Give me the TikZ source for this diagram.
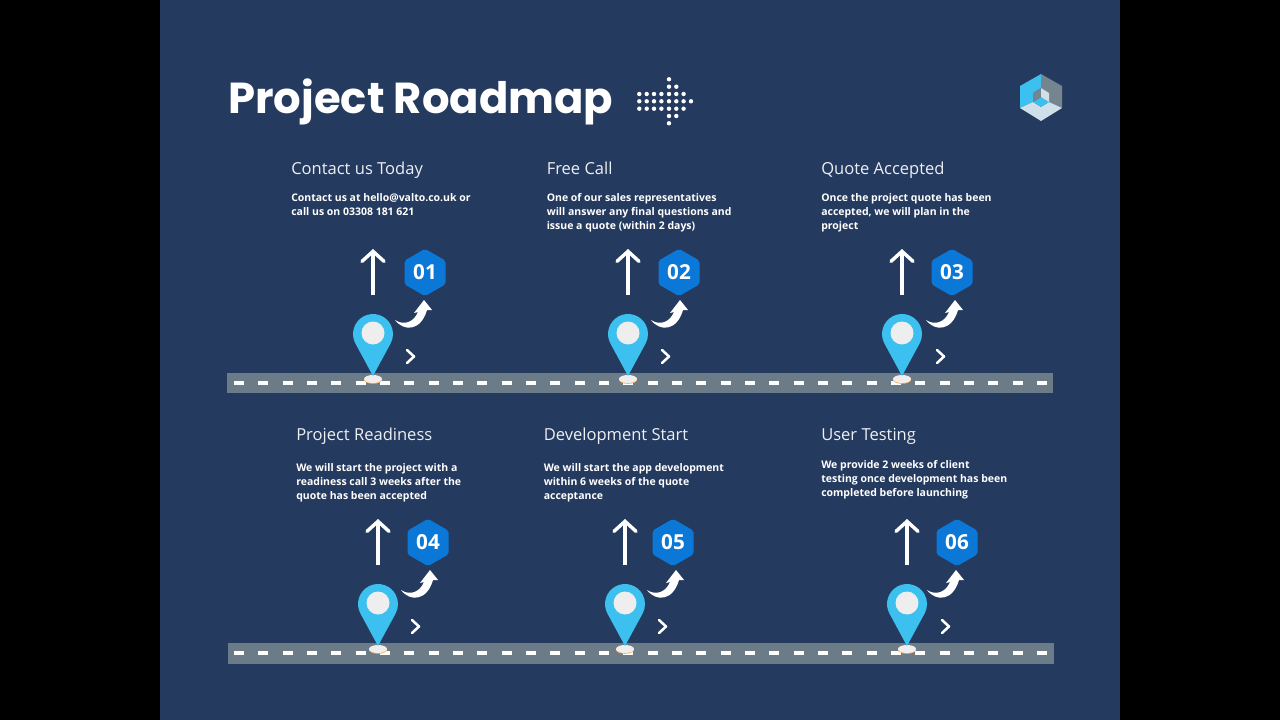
\documentclass[tikz,border=0pt]{standalone}
\usepackage{fontspec}
\setmainfont{Open Sans}
\newfontfamily\titlefont{Poppins}
\usepackage{xcolor}
\usetikzlibrary{arrows.meta,shapes.geometric}

\definecolor{panelblue}{HTML}{253A5F}
\definecolor{roadgrey}{HTML}{6B7B88}
\definecolor{pinblue}{HTML}{3BC0EF}
\definecolor{hexblue}{HTML}{0B78D8}
\definecolor{pinwhite}{HTML}{EEEEEE}
\definecolor{logogrey}{HTML}{75858F}
\definecolor{logolight}{HTML}{CFE0EA}

\tikzset{
  heading/.style={anchor=base west,inner sep=0pt,text=white!92!panelblue,font=\fontsize{12.4}{15}\selectfont},
  bodytext/.style={anchor=north west,inner sep=0pt,text=white,align=left,font=\fontsize{7.87}{10.5}\selectfont\bfseries},
  hexnum/.style={regular polygon,regular polygon sides=6,shape border rotate=30,minimum size=35.5pt,inner sep=0pt,
    rounded corners=1.5pt,fill=hexblue,text=white,font=\fontsize{15.5}{15.5}\selectfont\bfseries},
  uparrow/.style={draw=white,line width=2.6pt,-{Straight Barb[length=7.5pt,width=16.5pt,line cap=round]}},
  chevron/.style={draw=white,line width=1.9pt,line cap=round,line join=round},
  roadbed/.style={fill=roadgrey},
  roaddash/.style={draw=white,line width=2.4pt,dash pattern={on 7.5pt off 10.75pt}},
  griddot/.style={fill=white}
}

% #1 number, #2 pin x, #3 row offset, #4 hexagon x, #5 curved arrow x, #6 chevron x
\newcommand{\roadstop}[6]{
  % Up arrow
  \coordinate (foot#1) at (#2,295+#3);
  \coordinate (head#1) at (#2,249+#3);
  \draw [uparrow] (foot#1) -- (head#1);
  % Number
  \node [hexnum] (hex#1) at (#4,272.5+#3) {#1};
  % Curved arrow
  \fill [white] (#5+1,320+#3) .. controls (#5+10,332+#3) and (#5+27,331+#3) .. (#5+33,310+#3)
    -- (#5+38,310+#3) -- (#5+30,300+#3) -- (#5+20,313+#3) -- (#5+24,312+#3)
    .. controls (#5+20,322+#3) and (#5+10,326+#3) .. cycle;
  % Chevron
  \draw [chevron] (#6-3,350+#3) -- (#6+4,356.5+#3) -- (#6-3,363+#3);
  % Pin
  \fill [orange!70!white] (#2,379.8+#3) ellipse [x radius=9,y radius=4];
  \fill [pinwhite] (#2,379+#3) ellipse [x radius=9,y radius=4];
  \fill [pinblue] (#2,376+#3) -- (#2-17.7,343.3+#3) arc [start angle=152.3,end angle=387.7,radius=20] -- cycle;
  \fill [pinwhite] (#2,333+#3) circle [radius=11.5];
}

\begin{document}
\begin{tikzpicture}[x=0.75pt,y=0.75pt,yscale=-1,xscale=1]
  \useasboundingbox (0,0) rectangle (1280,720);
  \fill [black] (0,0) rectangle (1280,720);
  \fill [panelblue] (160,0) rectangle (1120,720);

  % Title
  \node [anchor=base west,inner sep=0pt,text=white,font=\titlefont\fontsize{32.5}{33}\selectfont\bfseries] (title) at (228,114) {Project Roadmap};

  % Dotted arrow
  \foreach \row in {94,101.3,108.7} {
    \foreach \col in {639.3,646.7,654,661.4,669,676.3,683.6} {
      \fill [griddot] (\col,\row) circle [radius=2.2];
    }
  }
  \fill [griddot] (691,101.3) circle [radius=2.2];
  \foreach \row in {86.7,116} {
    \fill [griddot] (669,\row) circle [radius=2.2];
    \fill [griddot] (676.3,\row) circle [radius=2.2];
  }
  \fill [griddot] (669,79.3) circle [radius=2.2];
  \fill [griddot] (669,123.3) circle [radius=2.2];

  % Logo
  \fill [pinblue] (1041,74) -- (1020,86) -- (1020,108) -- (1033,102) -- (1033,93) -- (1041,88) -- cycle;
  \fill [logogrey] (1041,74) -- (1062,86) -- (1062,108) -- (1049,102) -- (1049,93) -- (1041,88) -- cycle;
  \fill [logolight] (1020,108) -- (1041,121) -- (1062,108) -- (1049,102) -- (1041,107) -- (1033,102) -- cycle;
  \fill [pinblue] (1033,102) -- (1041,97) -- (1049,102) -- (1041,107) -- cycle;
  \fill [logogrey] (1033,93) -- (1041,88) -- (1041,97) -- (1033,102) -- cycle;
  \fill [logolight] (1041,88) -- (1049,93) -- (1049,102) -- (1041,97) -- cycle;

  % Roads
  \fill [roadbed] (227,373) rectangle (1053,393);
  \fill [roadbed] (228,643) rectangle (1054,664);
  \coordinate (roadAw) at (234,383);
  \coordinate (roadAe) at (1048,383);
  \coordinate (roadBw) at (234,653);
  \coordinate (roadBe) at (1049,653);
  \draw [roaddash] (roadAw) -- (roadAe);
  \draw [roaddash] (roadBw) -- (roadBe);

  % Stops
  \roadstop{01}{373}{0}{425}{394}{410}
  \roadstop{02}{628}{0}{679}{650}{665}
  \roadstop{03}{902}{0}{952}{925}{940}
  \roadstop{04}{378}{270}{428}{400}{415}
  \roadstop{05}{625}{270}{673}{646}{662}
  \roadstop{06}{907}{270}{957}{926}{945}

  % Headings
  \node [heading] (headA) at (291,174.5) {Contact us Today};
  \node [heading] (headB) at (546.5,174.5) {Free Call};
  \node [heading] (headC) at (821,174.5) {Quote Accepted};
  \node [heading] (headD) at (296,440) {Project Readiness};
  \node [heading] (headE) at (543.5,440) {Development Start};
  \node [heading] (headF) at (821,440) {User Testing};

  % Body text
  \node [bodytext] (bodyA) at (291,193) {Contact us at hello@valto.co.uk or\\call us on 03308 181 621};
  \node [bodytext] (bodyB) at (546.5,193) {One of our sales representatives\\will answer any final questions and\\issue a quote (within 2 days)};
  \node [bodytext] (bodyC) at (821,193) {Once the project quote has been\\accepted, we will plan in the\\project};
  \node [bodytext] (bodyD) at (296,463) {We will start the project with a\\readiness call 3 weeks after the\\quote has been accepted};
  \node [bodytext] (bodyE) at (543.5,463) {We will start the app development\\within 6 weeks of the quote\\acceptance};
  \node [bodytext] (bodyF) at (821,460) {We provide 2 weeks of client\\testing once development has been\\completed before launching};
\end{tikzpicture}
\end{document}
